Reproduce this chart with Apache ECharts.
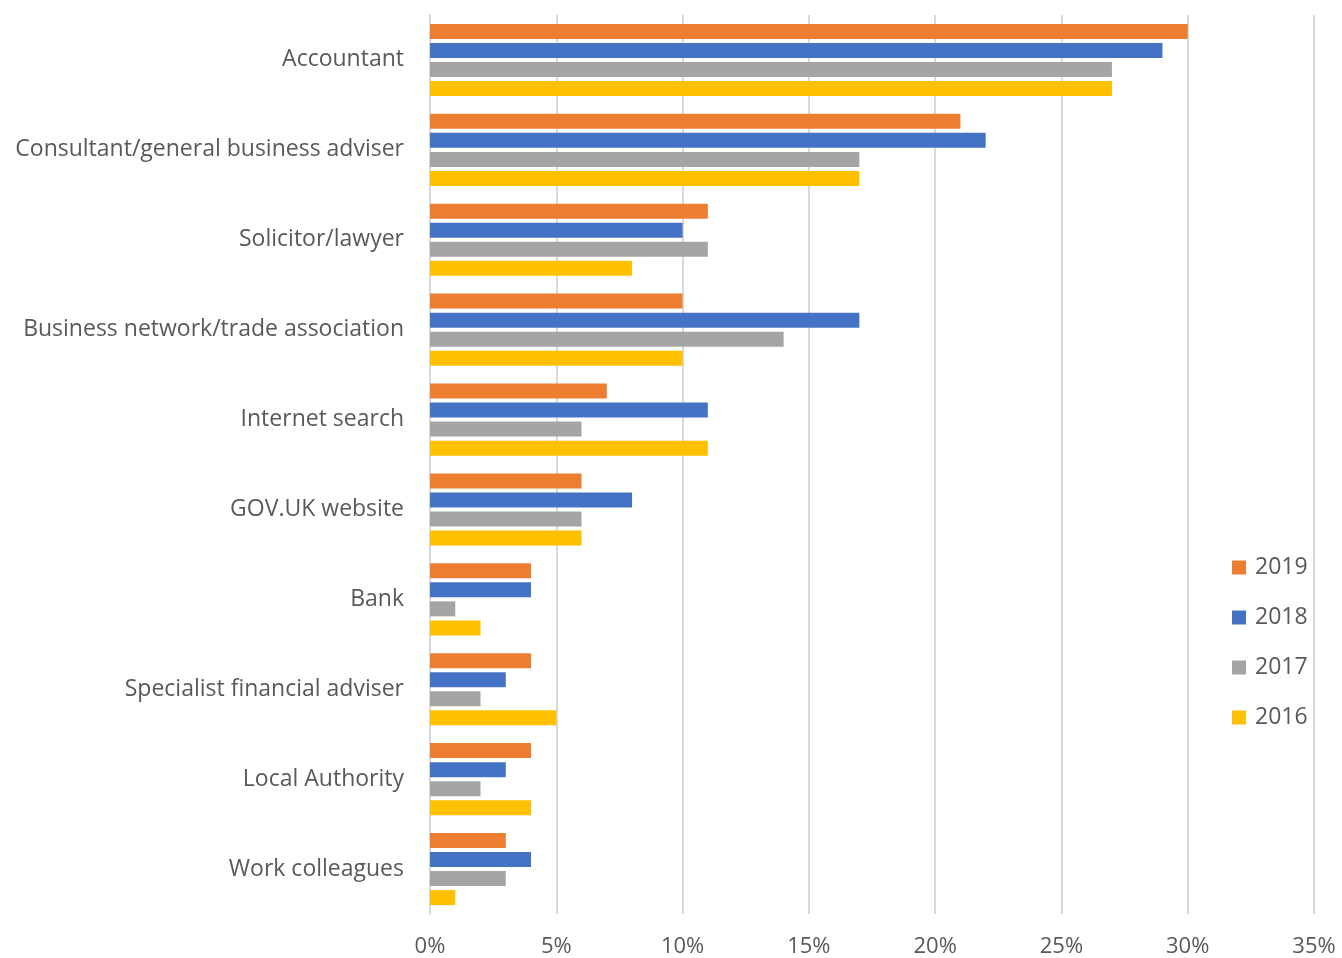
<!DOCTYPE html>
<html><head><meta charset="utf-8">
<script src="https://cdn.jsdelivr.net/npm/echarts@6/dist/echarts.min.js"></script>
<style>html,body{margin:0;padding:0;background:#fff}#c{width:1342px;height:958px}</style>
</head><body><div id="c"></div>
<script>
const categories = ["Accountant","Consultant/general business adviser","Solicitor/lawyer","Business network/trade association","Internet search","GOV.UK website","Bank","Specialist financial adviser","Local Authority","Work colleagues"];
const years = ["2019","2018","2017","2016"];
const v2019 = [30,21,11,10,7,6,4,4,4,3];
const v2018 = [29,22,10,17,11,8,4,3,3,4];
const v2017 = [27,17,11,14,6,6,1,2,2,3];
const v2016 = [27,17,8,10,11,6,2,5,4,1];
const xTicks = [0,5,10,15,20,25,30,35];
const colors = ["#ED7D31","#4472C4","#A5A5A5","#FFC000"];
const seriesData = [v2019,v2018,v2017,v2016];
const font = "'Open Sans', sans-serif";
const chart = echarts.init(document.getElementById('c'));
chart.setOption({
  animation:false,
  grid:{left:430,right:28,top:15,bottom:44},
  legend:{orient:'vertical',left:1227,top:551,itemWidth:14,itemHeight:14,itemGap:27,
    data:years,icon:'rect',
    textStyle:{fontFamily:font,fontSize:23,color:'#595959',lineHeight:23,padding:[0,0,0,4]}},
  xAxis:{type:'value',min:0,max:35,interval:5,
    axisLabel:{formatter:v=>v+'%',fontFamily:font,fontSize:22,color:'#595959',margin:22},
    axisLine:{show:false},axisTick:{show:false},
    splitLine:{lineStyle:{color:'#D9D9D9',width:2}}},
  yAxis:{type:'category',data:categories,inverse:true,
    axisLabel:{fontFamily:font,fontSize:23,color:'#595959',margin:26},
    axisLine:{lineStyle:{color:'#D9D9D9',width:2}},axisTick:{show:false}},
  series:years.map((y,i)=>({name:y,type:'bar',data:seriesData[i],
    itemStyle:{color:colors[i]},barWidth:15,barGap:'27%'}))
});
</script></body></html>
